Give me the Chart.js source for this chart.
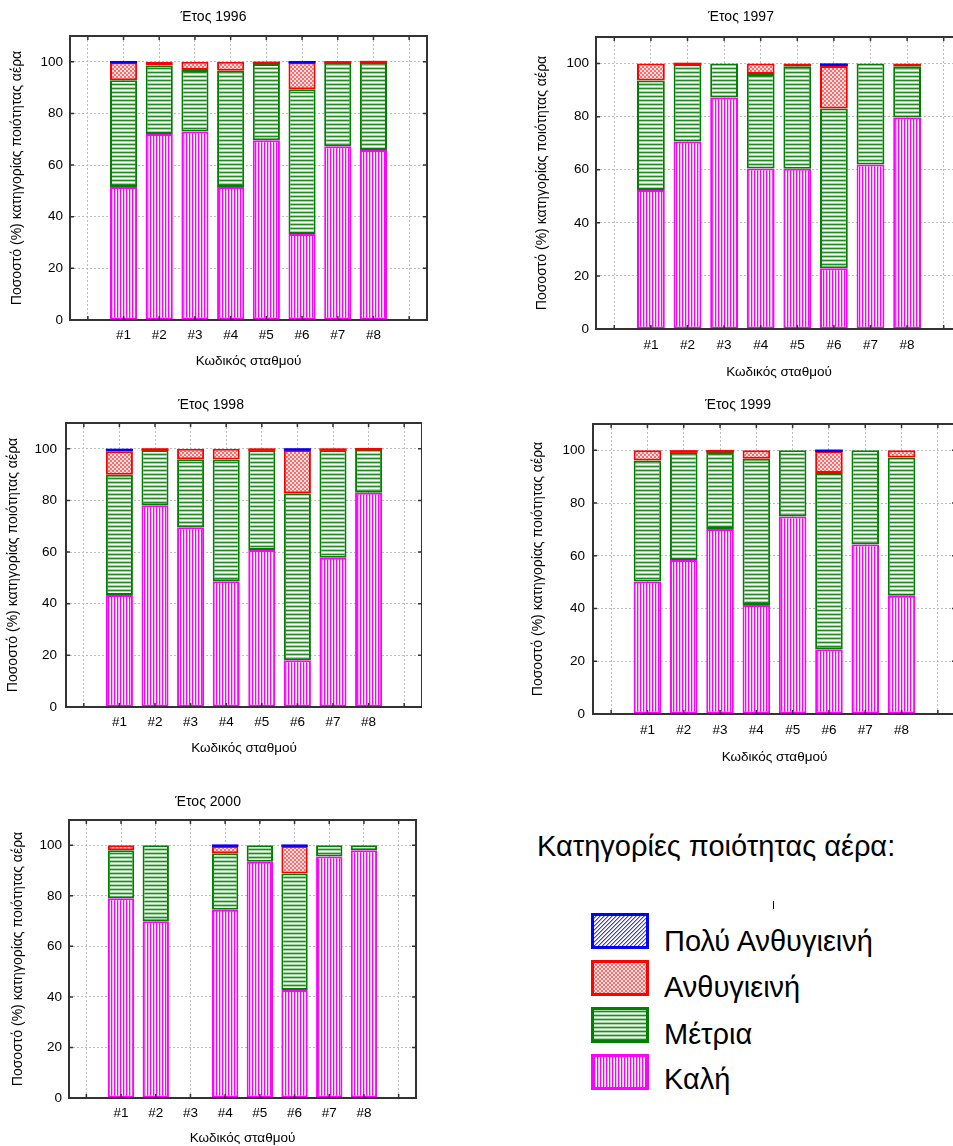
<!DOCTYPE html>
<html><head><meta charset="utf-8">
<script src="https://cdn.jsdelivr.net/npm/chart.js@4/dist/chart.umd.min.js"></script>
<style>
html,body{margin:0;padding:0;background:#fff;overflow:hidden;width:953px;height:1146px;}
body{position:relative;font-family:Arial,"Liberation Sans",sans-serif;color:#000;}
canvas.chart{position:absolute;}
.lg-title{position:absolute;left:537px;top:832px;font-size:29px;line-height:29px;white-space:nowrap;}
.lg-box{position:absolute;left:591px;width:58px;height:36px;}
.lg-label{position:absolute;left:664px;font-size:29px;line-height:29px;white-space:nowrap;}
.mark{position:absolute;left:773px;top:901px;width:1px;height:8px;background:#000;}
</style></head><body>
<canvas class="chart" id="c1996" width="428" height="380" style="left:0;top:0"></canvas>
<canvas class="chart" id="c1997" width="448" height="385" style="left:520px;top:0"></canvas>
<canvas class="chart" id="c1998" width="422" height="380" style="left:0;top:390px"></canvas>
<canvas class="chart" id="c1999" width="438" height="385" style="left:520px;top:390px"></canvas>
<canvas class="chart" id="c2000" width="420" height="361" style="left:0;top:785px"></canvas>

<div class="lg-title">Κατηγορίες ποιότητας αέρα:</div>
<div class="mark"></div>
<canvas class="lg-box" id="lg0" width="58" height="36" style="top:913px"></canvas>
<canvas class="lg-box" id="lg1" width="58" height="36" style="top:960px"></canvas>
<canvas class="lg-box" id="lg2" width="58" height="36" style="top:1007px"></canvas>
<canvas class="lg-box" id="lg3" width="58" height="36" style="top:1054px"></canvas>
<div class="lg-label" id="lt0" style="top:927px"></div>
<div class="lg-label" id="lt1" style="top:973px"></div>
<div class="lg-label" id="lt2" style="top:1020px"></div>
<div class="lg-label" id="lt3" style="top:1065px"></div>

<script>
// ---------- DATA ----------
const stations = ['#1','#2','#3','#4','#5','#6','#7','#8'];
const categoryNames = ['Πολύ Ανθυγιεινή','Ανθυγιεινή','Μέτρια','Καλή'];
const yTicks = [0,20,40,60,80,100];
const xTitle = 'Κωδικός σταθμού';
const yTitle = 'Ποσοστό (%) κατηγορίας ποιότητας αέρα';

const kali1996   = [51.5, 72.0, 73.0, 51.5, 69.6, 33.3, 67.3, 65.8];
const metria1996 = [41.4, 26.6, 23.8, 45.0, 29.6, 56.1, 32.3, 34.0];
const anth1996   = [ 6.8,  1.4,  3.2,  3.5,  0.8, 10.3,  0.4,  0.2];
const poly1996   = [ 0.3,  0,    0,    0,    0,    0.3,  0,    0  ];

const kali1997   = [52.4, 70.6, 87.2, 60.5, 60.4, 22.9, 62.0, 79.7];
const metria1997 = [41.2, 29.1, 12.8, 35.6, 38.6, 60.2, 38.0, 19.3];
const anth1997   = [ 6.4,  0.3,  0,    3.9,  1.0, 16.0,  0,    1.0];
const poly1997   = [ 0,    0,    0,    0,    0,    0.9,  0,    0  ];

const kali1998   = [43.4, 78.1, 69.6, 48.7, 60.8, 18.1, 57.8, 83.0];
const metria1998 = [46.6, 21.4, 26.4, 47.2, 38.6, 64.7, 41.6, 16.7];
const anth1998   = [ 9.1,  0.5,  4.0,  4.1,  0.6, 16.7,  0.6,  0.3];
const poly1998   = [ 0.9,  0,    0,    0,    0,    0.5,  0,    0  ];

const kali1999   = [50.3, 58.4, 70.2, 41.3, 74.9, 24.6, 64.3, 44.9];
const metria1999 = [45.9, 40.7, 29.2, 55.5, 25.1, 66.8, 35.7, 52.4];
const anth1999   = [ 3.8,  0.9,  0.6,  3.2,  0,    8.3,  0,    2.7];
const poly1999   = [ 0,    0,    0,    0,    0,    0.3,  0,    0  ];

const kali2000   = [79.0, 69.9, null, 74.5, 93.5, 42.7, 95.6, 98.0];
const metria2000 = [19.0, 30.1, null, 22.3,  6.5, 46.1,  4.4,  2.0];
const anth2000   = [ 2.0,  0,   null,  2.9,  0,   10.9,  0,    0  ];
const poly2000   = [ 0,    0,   null,  0.3,  0,    0.3,  0,    0  ];

// ---------- STYLE ----------
const FONT = 'Arial, "Liberation Sans", sans-serif';
const FS = 13.5;
function makePattern(w, h, draw) {
  const c = document.createElement('canvas'); c.width = w; c.height = h;
  const x = c.getContext('2d'); draw(x); return x.createPattern(c, 'repeat');
}
function px(x, c, a, b) { x.fillStyle = c; x.fillRect(a, b, 1, 1); }
const patKali = makePattern(3, 1, x => { px(x,'#ff00ff',0,0); px(x,'#ffa8ff',1,0); px(x,'#ffffff',2,0); });
const patMetria = makePattern(1, 4, x => { px(x,'#1e8c1e',0,0); px(x,'#a3d6a3',0,1); px(x,'#ffffff',0,2); px(x,'#a3d6a3',0,3); });
const patAnth = makePattern(4, 4, x => { x.fillStyle='#ffe2e2'; x.fillRect(0,0,4,4); x.fillStyle='#ff6a6a'; x.fillRect(0,0,2,2); x.fillRect(2,2,2,2); });
const patPoly = makePattern(4, 4, x => { x.fillStyle='#ffffff'; x.fillRect(0,0,4,4); x.fillStyle='#3a3aff'; for (let i=0;i<4;i++){ x.fillRect(3-i,i,1,1); } x.fillStyle='#a0a0ff'; for (let i=0;i<4;i++){ x.fillRect((4-i)%4,i,1,1); } });

const seriesStyle = {
  'Καλή':            { fill: patKali,   border: '#ff00ff' },
  'Μέτρια':          { fill: patMetria, border: '#008000' },
  'Ανθυγιεινή':      { fill: patAnth,   border: '#ff0000' },
  'Πολύ Ανθυγιεινή': { fill: patPoly,   border: '#0000ff' }
};

// thin segments: draw their outline as a visible line (like the original renderer)
const thinPlugin = {
  id: 'thin',
  afterDatasetsDraw(chart) {
    const { ctx } = chart;
    ctx.save();
    chart.data.datasets.forEach((ds, di) => {
      const meta = chart.getDatasetMeta(di);
      meta.data.forEach((el, i) => {
        const v = ds.data[i];
        if (v == null || v <= 0) return;
        const p = el.getProps(['x', 'y', 'base', 'width'], true);
        const h = Math.abs(p.base - p.y);
        if (h < 2.5) {
          ctx.fillStyle = ds.borderColor;
          const top = Math.min(p.y, p.base);
          ctx.fillRect(p.x - p.width / 2, top - (2.5 - h) / 2, p.width, 2.5);
        }
      });
    });
    ctx.restore();
  }
};

const framePlugin = {
  id: 'frame',
  afterDatasetsDraw(chart) {
    const { ctx, chartArea: a, scales } = chart;
    ctx.save();
    ctx.strokeStyle = '#333'; ctx.lineWidth = 2;
    ctx.strokeRect(a.left, a.top, a.right - a.left, a.bottom - a.top);
    ctx.lineWidth = 1.5;
    ctx.beginPath();
    for (let i = 0; i < scales.x.ticks.length; i++) {
      const p = scales.x.getPixelForTick(i);
      ctx.moveTo(p, a.bottom); ctx.lineTo(p, a.bottom - 4);
      ctx.moveTo(p, a.top); ctx.lineTo(p, a.top + 4);
    }
    yTicks.forEach(v => {
      const p = scales.y.getPixelForValue(v);
      ctx.moveTo(a.left, p); ctx.lineTo(a.left + 4, p);
      ctx.moveTo(a.right, p); ctx.lineTo(a.right - 4, p);
    });
    ctx.stroke();
    ctx.restore();
  }
};

function pad(arr) { return [null, ...arr, null]; }

function makeChart(id, year, series, g) {
  const labels = ['', ...stations, ''];
  const order = ['Καλή', 'Μέτρια', 'Ανθυγιεινή', 'Πολύ Ανθυγιεινή'];
  const datasets = order.map((name, i) => ({
    label: name,
    data: pad(series[i]),
    backgroundColor: seriesStyle[name].fill,
    borderColor: seriesStyle[name].border,
    borderWidth: 2,
    borderSkipped: false,
    categoryPercentage: 1.0,
    barPercentage: 0.76
  }));
  return new Chart(document.getElementById(id), {
    type: 'bar',
    data: { labels, datasets },
    plugins: [thinPlugin, framePlugin],
    options: {
      responsive: false,
      animation: false,
      devicePixelRatio: 1,
      layout: { padding: { left: 0, top: 0, bottom: 0, right: g.padR } },
      plugins: {
        legend: { display: false },
        tooltip: { enabled: false },
        title: {
          display: true, text: 'Έτος ' + year, color: '#000',
          font: { family: FONT, size: 14, weight: 'normal', lineHeight: '14px' },
          padding: { top: g.tTop, bottom: g.tBot }
        }
      },
      scales: {
        x: {
          stacked: true,
          offset: true,
          grid: { display: true, offset: false, color: '#bdbdbd', drawTicks: false },
          border: { display: false, dash: [2, 2] },
          ticks: { color: '#000', padding: g.xTickPad, font: { family: FONT, size: FS }, maxRotation: 0, autoSkip: false },
          title: { display: true, text: xTitle, color: '#000', font: { family: FONT, size: FS, lineHeight: '14px' }, padding: { top: 0, bottom: g.xTitleBot } },
          afterFit(s) { s.height = g.xH; }
        },
        y: {
          stacked: true,
          min: 0, max: 110,
          afterBuildTicks(s) { s.ticks = yTicks.map(v => ({ value: v })); },
          grid: { display: true, color: '#bdbdbd', drawTicks: false },
          border: { display: false, dash: [2, 2] },
          ticks: { color: '#000', padding: g.yTickPad, font: { family: FONT, size: FS } },
          title: { display: true, text: yTitle, color: '#000', font: { family: FONT, size: 14, lineHeight: '14px' }, padding: { top: g.yTitlePad, bottom: 0 } },
          afterFit(s) { s.width = g.yW; }
        }
      }
    }
  });
}

makeChart('c1996', 1996, [kali1996, metria1996, anth1996, poly1996],
  { yW: 70, xH: 60, padR: 1, tTop: 10, tBot: 12, yTitlePad: 10, yTickPad: 7, xTickPad: 7, xTitleBot: 12 });
makeChart('c1997', 1997, [kali1997, metria1997, anth1997, poly1997],
  { yW: 76, xH: 56, padR: 6, tTop: 10, tBot: 13, yTitlePad: 15, yTickPad: 7, xTickPad: 8, xTitleBot: 6 });
makeChart('c1998', 1998, [kali1998, metria1998, anth1998, poly1998],
  { yW: 66, xH: 63, padR: 0, tTop: 8, tBot: 11, yTitlePad: 6, yTickPad: 9, xTickPad: 7, xTitleBot: 15 });
makeChart('c1999', 1999, [kali1999, metria1999, anth1999, poly1999],
  { yW: 73, xH: 61, padR: 2, tTop: 8, tBot: 12, yTitlePad: 11, yTickPad: 8, xTickPad: 8, xTitleBot: 11 });
makeChart('c2000', 2000, [kali2000, metria2000, anth2000, poly2000],
  { yW: 69, xH: 48, padR: 4, tTop: 10, tBot: 11, yTitlePad: 11, yTickPad: 7, xTickPad: 7, xTitleBot: 1 });

// ---------- LEGEND ----------
categoryNames.forEach((name, i) => {
  const c = document.getElementById('lg' + i);
  const x = c.getContext('2d');
  x.fillStyle = seriesStyle[name].fill; x.fillRect(0, 0, 58, 36);
  x.strokeStyle = seriesStyle[name].border; x.lineWidth = 3; x.strokeRect(1.5, 1.5, 55, 33);
  document.getElementById('lt' + i).textContent = name;
});
</script>
</body></html>
